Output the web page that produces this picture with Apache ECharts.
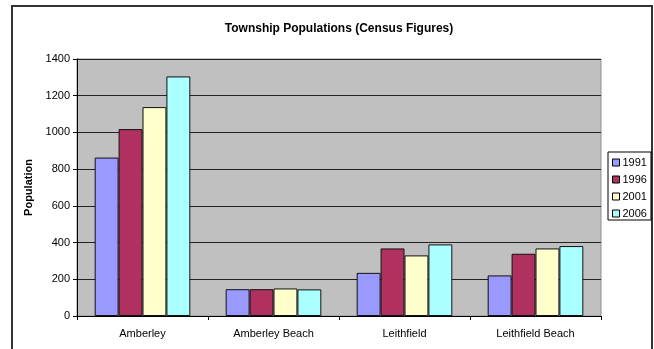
<!DOCTYPE html>
<html lang="en">
<head>
    <meta charset="UTF-8">
    <title>Township Populations</title>
    <script src="https://cdn.jsdelivr.net/npm/echarts@6/dist/echarts.min.js"></script>
</head>
<body style="padding: 0; margin: 0; background: #fff">
    <div id="main" style="width: 654px; height: 349px;"></div>
<script>
    var towns = ['Amberley', 'Amberley Beach', 'Leithfield', 'Leithfield Beach'];
    var years = ['1991', '1996', '2001', '2006'];
    var pop1991 = [863, 146, 235, 221];
    var pop1996 = [1018, 146, 368, 339];
    var pop2001 = [1138, 150, 330, 368];
    var pop2006 = [1305, 145, 390, 381];
    var colors = ['#9999FF', '#B03060', '#FFFFCC', '#AAFFFF'];

    var myChart = echarts.init(document.getElementById('main'));
    var values = [pop1991, pop1996, pop2001, pop2006];
    var series = [];
    for (var i = 0; i < years.length; i++) {
        series.push({
            name: years[i],
            type: 'bar',
            barGap: '0%',
            barCategoryGap: '27%',
            itemStyle: {color: colors[i], borderColor: '#111', borderWidth: 1},
            data: values[i]
        });
    }

    var font = 'Arial, "Liberation Sans", sans-serif';
    option = {
        animation: false,
        graphic: [{
            type: 'rect',
            shape: {x: 12, y: 6, width: 640, height: 360},
            style: {fill: null, stroke: '#333', lineWidth: 2},
            silent: true
        }],
        title: {
            text: 'Township Populations (Census Figures)',
            left: 334,
            textAlign: 'center',
            top: 18,
            textStyle: {fontFamily: font, fontSize: 12, fontWeight: 'bold', color: '#000'}
        },
        grid: {
            left: 77, right: 53, top: 59, bottom: 33,
            show: true, backgroundColor: '#C0C0C0', borderColor: '#909090', borderWidth: 1
        },
        legend: {
            orient: 'vertical',
            left: 608, top: 152,
            width: 43,
            padding: [5, 4, 1, 4],
            itemGap: 6,
            itemWidth: 7, itemHeight: 7,
            borderColor: '#000', borderWidth: 1,
            backgroundColor: '#fff',
            icon: 'rect',
            itemStyle: {borderColor: '#000', borderWidth: 1},
            textStyle: {fontFamily: font, fontSize: 11, color: '#000', padding: [0, 0, 0, -2]},
            data: years
        },
        xAxis: {
            type: 'category',
            data: towns,
            axisLine: {lineStyle: {color: '#000', width: 1}},
            axisTick: {show: true, length: 4, lineStyle: {color: '#000'}},
            axisLabel: {fontFamily: font, fontSize: 11, color: '#000', margin: 12}
        },
        yAxis: {
            type: 'value',
            min: 0, max: 1400, interval: 200,
            name: 'Population',
            nameLocation: 'middle',
            nameGap: 32,
            nameTextStyle: {fontFamily: font, fontSize: 11, fontWeight: 'bold', color: '#000'},
            axisLine: {show: true, lineStyle: {color: '#000', width: 1}},
            axisTick: {show: true, length: 4, lineStyle: {color: '#000'}},
            axisLabel: {fontFamily: font, fontSize: 11, color: '#000', margin: 7,
                formatter: function (v) { return String(v); }},
            splitLine: {lineStyle: {color: '#222', width: 1}}
        },
        series: series
    };
    myChart.setOption(option);
</script>
</body>
</html>
